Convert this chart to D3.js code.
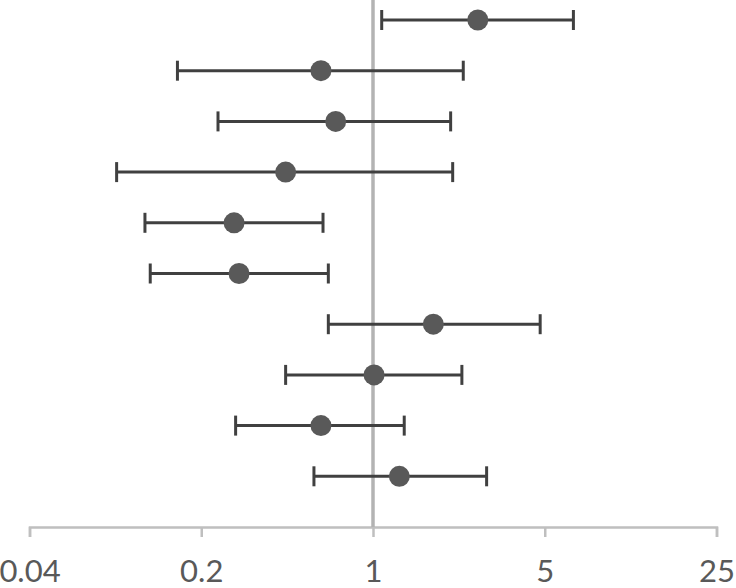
<!DOCTYPE html>
<html>
<head>
<meta charset="utf-8">
<script src="https://cdn.jsdelivr.net/npm/d3@7"></script>
<style>
  html, body { margin: 0; padding: 0; background: #fff; }
  svg { display: block; }
</style>
</head>
<body>
<svg id="chart" width="736" height="588"></svg>
<script>
// Data (top row first)
const rows   = [1, 2, 3, 4, 5, 6, 7, 8, 9, 10];
const points = [2.67, 0.614, 0.705, 0.441, 0.272, 0.285, 1.76, 1.01, 0.614, 1.28];
const lowers = [1.085, 0.160, 0.234, 0.0905, 0.118, 0.124, 0.658, 0.441, 0.276, 0.575];
const uppers = [6.54, 2.33, 2.07, 2.11, 0.626, 0.658, 4.79, 2.30, 1.34, 2.90];
const tickValues = [0.04, 0.2, 1, 5, 25];
const tickLabels = ["0.04", "0.2", "1", "5", "25"];

const svg = d3.select("#chart");
const x = d3.scaleLog().domain([0.04, 25]).range([29.5, 716.5]);
const y = d3.scaleLinear().domain([0, 10]).range([527, 20]);
const rowY = r => y(11 - r);

// Axis
const axis = d3.axisBottom(x)
  .tickValues(tickValues)
  .tickFormat((d, i) => tickLabels[i])
  .tickSizeOuter(0)
  .tickSize(10)
  .tickPadding(23);
const g = svg.append("g").attr("transform", `translate(0,${y(0)})`).call(axis);
g.select(".domain").attr("stroke", "#bfbfbf").attr("stroke-width", 2.5);
g.selectAll(".tick line").attr("stroke", "#bfbfbf").attr("stroke-width", 2.5);
g.selectAll(".tick text")
  .attr("fill", "#595959")
  .attr("font-family", "Lato, 'Open Sans', sans-serif")
  .attr("font-size", 31)
  .attr("dy", "0.71em");

// Reference line at 1
svg.append("line")
  .attr("x1", x(1)).attr("x2", x(1))
  .attr("y1", 0).attr("y2", y(0))
  .attr("stroke", "#b3b3b3").attr("stroke-width", 3.5);

const data = rows.map((r, i) => ({ r, p: points[i], lo: lowers[i], hi: uppers[i] }));

const bars = svg.append("g");
bars.selectAll("line.ci").data(data).join("line")
  .attr("class", "ci")
  .attr("x1", d => x(d.lo)).attr("x2", d => x(d.hi))
  .attr("y1", d => rowY(d.r)).attr("y2", d => rowY(d.r))
  .attr("stroke", "#404040").attr("stroke-width", 3);
bars.selectAll("line.capl").data(data).join("line")
  .attr("class", "capl")
  .attr("x1", d => x(d.lo)).attr("x2", d => x(d.lo))
  .attr("y1", d => rowY(d.r) - 10).attr("y2", d => rowY(d.r) + 10)
  .attr("stroke", "#404040").attr("stroke-width", 3);
bars.selectAll("line.caph").data(data).join("line")
  .attr("class", "caph")
  .attr("x1", d => x(d.hi)).attr("x2", d => x(d.hi))
  .attr("y1", d => rowY(d.r) - 10).attr("y2", d => rowY(d.r) + 10)
  .attr("stroke", "#404040").attr("stroke-width", 3);

svg.append("g").selectAll("circle").data(data).join("circle")
  .attr("cx", d => x(d.p)).attr("cy", d => rowY(d.r))
  .attr("r", 10.5)
  .attr("fill", "#595959");
</script>
</body>
</html>
